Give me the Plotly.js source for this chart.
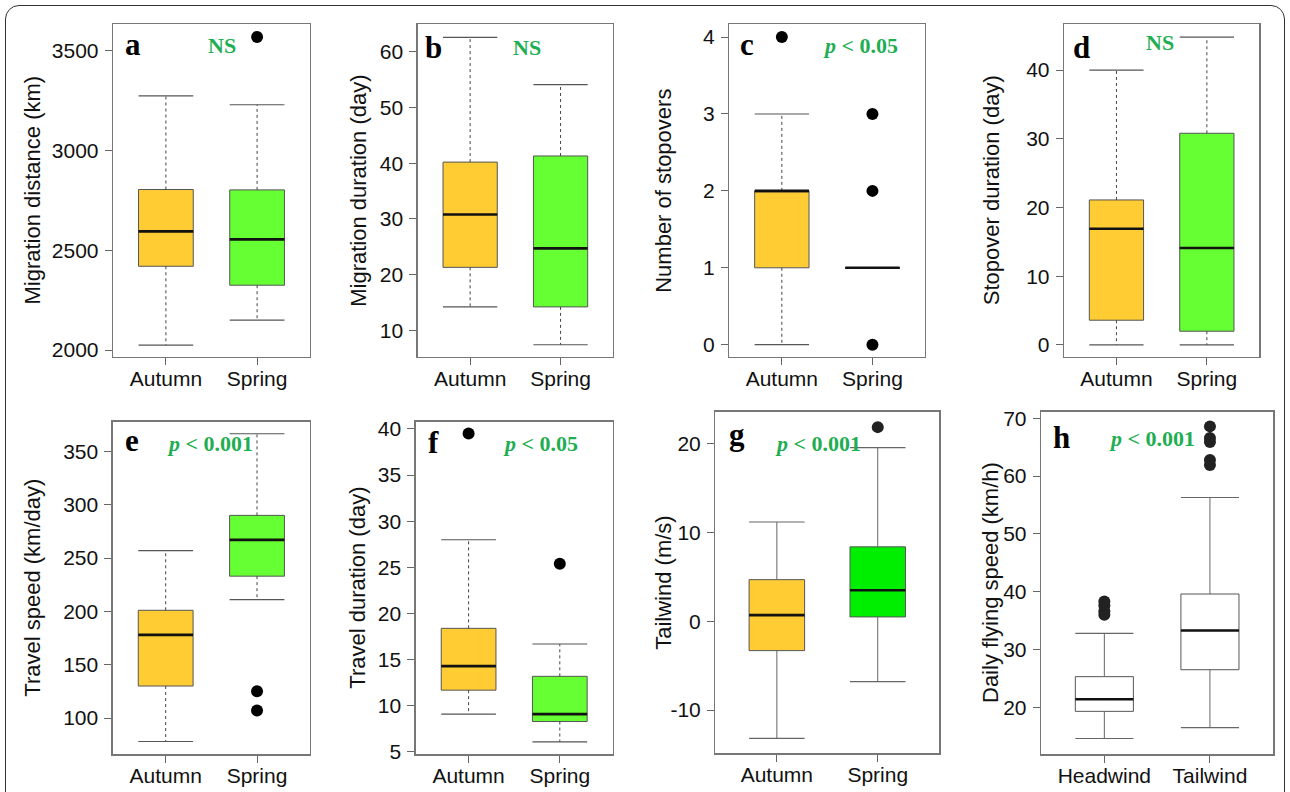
<!DOCTYPE html>
<html><head><meta charset="utf-8">
<script src="https://cdn.plot.ly/plotly-3.0.1.min.js"></script>
<style>
html,body{margin:0;padding:0;background:#fff;}
#wrap{position:relative;width:1290px;height:792px;overflow:hidden;}
#chart{position:absolute;left:0;top:0;width:1290px;height:792px;}
#frame{position:absolute;left:5px;top:5px;width:1280px;height:830px;border:1.5px solid #333;border-radius:14px;box-sizing:border-box;pointer-events:none;}
</style></head>
<body><div id="wrap"><div id="chart"></div><div id="frame"></div></div>
<script>
// ---------- data ----------
const seasonLabels = ['Autumn', 'Spring'];
const windLabels = ['Headwind', 'Tailwind'];

// a: Migration distance (km)
const distLow = [2025, 2150], distQ1 = [2420, 2325], distMed = [2595, 2555], distQ3 = [2805, 2803], distHigh = [3275, 3230];
const distOut = [[], [3570]];
const distTicks = [2000, 2500, 3000, 3500];
// b: Migration duration (day)
const migDurLow = [14.2, 7.4], migDurQ1 = [21.3, 14.2], migDurMed = [30.8, 24.7], migDurQ3 = [40.2, 41.3], migDurHigh = [62.6, 54.1];
const migDurOut = [[], []];
const migDurTicks = [10, 20, 30, 40, 50, 60];
// c: Number of stopovers
const stopLow = [0, 1], stopQ1 = [1, 1], stopMed = [2, 1], stopQ3 = [2, 1], stopHigh = [3, 1];
const stopOut = [[4], [0, 2, 3]];
const stopTicks = [0, 1, 2, 3, 4];
// d: Stopover duration (day)
const stopDurLow = [0, 0], stopDurQ1 = [3.6, 2.0], stopDurMed = [16.9, 14.1], stopDurQ3 = [21.1, 30.8], stopDurHigh = [40, 44.8];
const stopDurOut = [[], []];
const stopDurTicks = [0, 10, 20, 30, 40];
// e: Travel speed (km/day)
const speedLow = [78, 211], speedQ1 = [130, 233], speedMed = [178, 267], speedQ3 = [201, 290], speedHigh = [257, 366.5];
const speedOut = [[], [125, 107]];
const speedTicks = [100, 150, 200, 250, 300, 350];
// f: Travel duration (day)
const travDurLow = [9.1, 6.1], travDurQ1 = [11.7, 8.3], travDurMed = [14.3, 9.1], travDurQ3 = [18.4, 13.2], travDurHigh = [28.0, 16.7];
const travDurOut = [[39.5], [25.4]];
const travDurTicks = [5, 10, 15, 20, 25, 30, 35, 40];
// g: Tailwind (m/s)
const windLow = [-13.2, -6.8], windQ1 = [-3.3, 0.5], windMed = [0.7, 3.5], windQ3 = [4.7, 8.4], windHigh = [11.2, 19.6];
const windOut = [[], [21.9]];
const windTicks = [-10, 0, 10, 20];
// h: Daily flying speed (km/h)
const flyLow = [14.6, 16.5], flyQ1 = [19.3, 26.5], flyMed = [21.4, 33.3], flyQ3 = [25.3, 39.6], flyHigh = [32.8, 56.3];
const flyOut = [[36.0, 36.6, 37.6, 38.3], [61.9, 62.8, 65.9, 66.6, 68.6]];
const flyTicks = [20, 30, 40, 50, 60, 70];

const panelLetters = ['a', 'b', 'c', 'd', 'e', 'f', 'g', 'h'];
const sigTexts = ['NS', 'NS', '<i>p</i> &lt; 0.05', 'NS', '<i>p</i> &lt; 0.001', '<i>p</i> &lt; 0.05', '<i>p</i> &lt; 0.001', '<i>p</i> &lt; 0.001'];
const yTitles = ['Migration distance (km)', 'Migration duration (day)', 'Number of stopovers', 'Stopover duration (day)',
  'Travel speed (km/day)', 'Travel duration (day)', 'Tailwind (m/s)', 'Daily flying speed (km/h)'];

// ---------- layout / styling ----------
const W = 1290, H = 792;
const SANS = 'Liberation Sans, Arial, sans-serif';
const SERIF = 'Liberation Serif, Times New Roman, serif';
const SIG = '#1fae52';
const seasonFill = ['#FFCC33', '#66FF33'];

const panels = [
  {lo: distLow, q1: distQ1, med: distMed, q3: distQ3, hi: distHigh, out: distOut, labels: seasonLabels, ticks: distTicks,
   box: [113, 310, 24, 357], yr: [1965, 3635], xr: [0.42, 2.58], w: 0.6, fill: seasonFill, dash: true,
   titleX: 32, letter: [132.7, 45], sig: [221.7, 46]},
  {lo: migDurLow, q1: migDurQ1, med: migDurMed, q3: migDurQ3, hi: migDurHigh, out: migDurOut, labels: seasonLabels, ticks: migDurTicks,
   box: [417.7, 613, 24, 357], yr: [5.2, 65], xr: [0.42, 2.58], w: 0.6, fill: seasonFill, dash: true,
   titleX: 358.3, letter: [433.3, 47], sig: [527.3, 48]},
  {lo: stopLow, q1: stopQ1, med: stopMed, q3: stopQ3, hi: stopHigh, out: stopOut, labels: seasonLabels, ticks: stopTicks,
   box: [729.3, 925, 24, 357], yr: [-0.16, 4.17], xr: [0.42, 2.58], w: 0.6, fill: seasonFill, dash: true,
   titleX: 663.3, letter: [746.7, 44], sig: [860, 46]},
  {lo: stopDurLow, q1: stopDurQ1, med: stopDurMed, q3: stopDurQ3, hi: stopDurHigh, out: stopDurOut, labels: seasonLabels, ticks: stopDurTicks,
   box: [1064, 1259.3, 24, 357], yr: [-1.75, 46.7], xr: [0.42, 2.58], w: 0.6, fill: seasonFill, dash: true,
   titleX: 991.7, letter: [1081.7, 47], sig: [1160, 43]},
  {lo: speedLow, q1: speedQ1, med: speedMed, q3: speedQ3, hi: speedHigh, out: speedOut, labels: seasonLabels, ticks: speedTicks,
   box: [112.7, 310, 421.7, 754.3], yr: [66, 377.8], xr: [0.42, 2.58], w: 0.6, fill: seasonFill, dash: true,
   titleX: 31.7, letter: [131.7, 441], sig: [210, 443.3]},
  {lo: travDurLow, q1: travDurQ1, med: travDurMed, q3: travDurQ3, hi: travDurHigh, out: travDurOut, labels: seasonLabels, ticks: travDurTicks,
   box: [415.7, 612.7, 421.7, 754.3], yr: [4.75, 40.79], xr: [0.42, 2.58], w: 0.6, fill: seasonFill, dash: true,
   titleX: 356.7, letter: [433.3, 442], sig: [540, 443.3]},
  {lo: windLow, q1: windQ1, med: windMed, q3: windQ3, hi: windHigh, out: windOut, labels: seasonLabels, ticks: windTicks,
   box: [715.3, 939.3, 411.7, 753.3], yr: [-14.88, 23.64], xr: [0.39, 2.61], w: 0.55, fill: ['#FFCC33', '#00EE00'], dash: false,
   titleX: 663.3, letter: [736.7, 434], sig: [818.3, 443.3]},
  {lo: flyLow, q1: flyQ1, med: flyMed, q3: flyQ3, hi: flyHigh, out: flyOut, labels: windLabels, ticks: flyTicks,
   box: [1041, 1273.3, 411.7, 754.3], yr: [11.87, 71.14], xr: [0.40, 2.60], w: 0.55, fill: ['#FFFFFF', '#FFFFFF'], dash: false,
   titleX: 990, letter: [1061.7, 437], sig: [1151.7, 438.3]}
];

const traces = [];
const layout = {
  width: W, height: H, margin: {l: 0, r: 0, t: 0, b: 0},
  paper_bgcolor: '#fff', plot_bgcolor: '#fff', showlegend: false,
  font: {family: SANS, color: '#111'},
  annotations: []
};

panels.forEach((p, k) => {
  const s = k === 0 ? '' : String(k + 1);
  const xa = 'x' + s, ya = 'y' + s;
  const [L, R, T, B] = p.box;
  const half = p.w / 2;
  const outColor = p.dash ? '#000' : '#222';
  const capColor = p.dash ? '#555' : '#666';

  // boxes (fill + outline); whiskers drawn separately
  [0, 1].forEach(g => {
    traces.push({
      type: 'box', orientation: 'v', x: [g + 1],
      q1: [p.q1[g]], median: [p.med[g]], q3: [p.q3[g]],
      lowerfence: [p.q1[g]], upperfence: [p.q3[g]],
      width: p.w, whiskerwidth: 0, boxpoints: false,
      fillcolor: p.fill[g], line: {color: '#555', width: 1},
      xaxis: xa, yaxis: ya, hoverinfo: 'skip'
    });
  });

  // whiskers, caps, medians
  const wx = [], wy = [], cx = [], cy = [], mx = [], my = [];
  [0, 1].forEach(g => {
    const x = g + 1;
    wx.push(x, x, null, x, x, null);
    wy.push(p.q3[g], p.hi[g], null, p.q1[g], p.lo[g], null);
    cx.push(x - half, x + half, null, x - half, x + half, null);
    cy.push(p.hi[g], p.hi[g], null, p.lo[g], p.lo[g], null);
    mx.push(x - half, x + half, null);
    my.push(p.med[g], p.med[g], null);
  });
  traces.push({type: 'scatter', mode: 'lines', x: wx, y: wy, xaxis: xa, yaxis: ya, hoverinfo: 'skip',
    line: {color: p.dash ? '#444' : '#666', width: 1, dash: p.dash ? '3px,3px' : 'solid'}});
  traces.push({type: 'scatter', mode: 'lines', x: cx, y: cy, xaxis: xa, yaxis: ya, hoverinfo: 'skip',
    line: {color: capColor, width: 1.2}});
  traces.push({type: 'scatter', mode: 'lines', x: mx, y: my, xaxis: xa, yaxis: ya, hoverinfo: 'skip',
    line: {color: '#111', width: 2.6}});

  // outliers
  const ox = [], oy = [];
  [0, 1].forEach(g => p.out[g].forEach(v => { ox.push(g + 1); oy.push(v); }));
  if (ox.length) traces.push({type: 'scatter', mode: 'markers', x: ox, y: oy, xaxis: xa, yaxis: ya, hoverinfo: 'skip',
    marker: {color: outColor, size: 12, line: {width: 0}}});

  layout['xaxis' + s] = {
    domain: [L / W, R / W], anchor: ya, range: p.xr, tickvals: [1, 2], ticktext: p.labels,
    ticks: 'outside', ticklen: 7, tickcolor: '#666', tickwidth: 1,
    showline: true, mirror: true, linecolor: '#777', linewidth: 1.3,
    showgrid: false, zeroline: false, fixedrange: true, ticklabelstandoff: -5,
    tickfont: {family: SANS, size: 21, color: '#111'}
  };
  layout['yaxis' + s] = {
    domain: [1 - B / H, 1 - T / H], anchor: xa, range: p.yr,
    tickvals: p.ticks, ticktext: p.ticks.map(v => String(v)),
    ticks: 'outside', ticklen: 7, tickcolor: '#666', tickwidth: 1,
    showline: true, mirror: true, linecolor: '#777', linewidth: 1.3,
    showgrid: false, zeroline: false, fixedrange: true, ticklabelstandoff: 2,
    tickfont: {family: SANS, size: 21, color: '#111'}
  };

  // axis title
  layout.annotations.push({xref: 'paper', yref: 'paper', x: p.titleX / W, y: 1 - ((T + B) / 2) / H,
    text: yTitles[k], textangle: -90, showarrow: false, xanchor: 'center', yanchor: 'middle',
    font: {family: SANS, size: 22, color: '#111'}});
  // panel letter
  layout.annotations.push({xref: 'paper', yref: 'paper', x: p.letter[0] / W, y: 1 - p.letter[1] / H,
    text: panelLetters[k], showarrow: false, xanchor: 'center', yanchor: 'middle',
    font: {family: SERIF, size: 31, weight: 'bold', color: '#000'}});
  // significance
  layout.annotations.push({xref: 'paper', yref: 'paper', x: p.sig[0] / W, y: 1 - p.sig[1] / H,
    text: sigTexts[k], showarrow: false, xanchor: 'center', yanchor: 'middle',
    font: {family: SERIF, size: 22, weight: 'bold', color: SIG}});
});

Plotly.newPlot('chart', traces, layout, {staticPlot: true, displayModeBar: false});
</script>
</body></html>
